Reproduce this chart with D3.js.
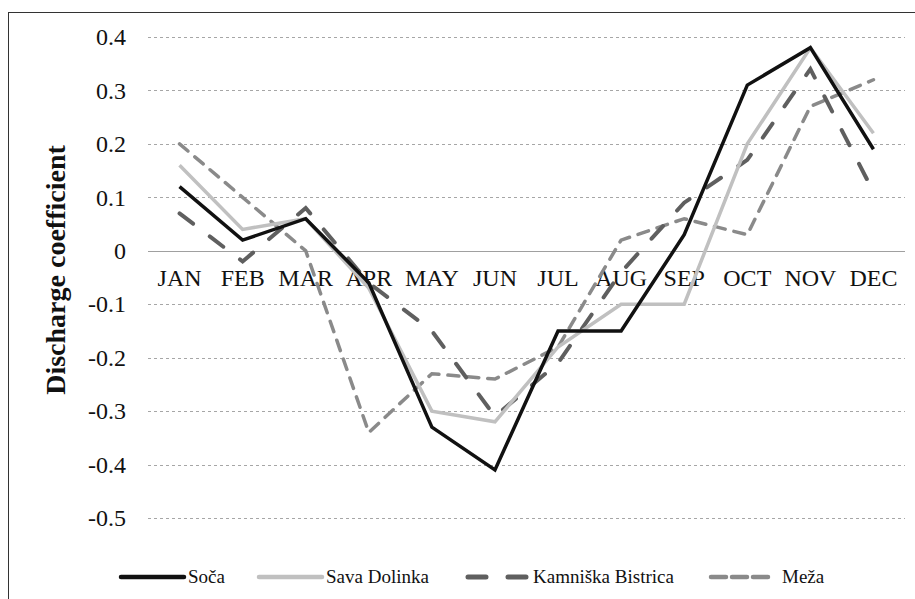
<!DOCTYPE html>
<html>
<head>
<meta charset="utf-8">
<script src="https://cdn.jsdelivr.net/npm/d3@7"></script>
<style>
  body { margin: 0; background: #fff; }
  svg { display: block; }
  svg text { font-family: "Liberation Serif", "Times New Roman", serif; }
</style>
</head>
<body>
<svg width="915" height="599"></svg>
<script>
var months = ["JAN", "FEB", "MAR", "APR", "MAY", "JUN", "JUL", "AUG", "SEP", "OCT", "NOV", "DEC"];
var yTicks = [0.4, 0.3, 0.2, 0.1, 0, -0.1, -0.2, -0.3, -0.4, -0.5];
var seriesNames = ["Soča", "Sava Dolinka", "Kamniška Bistrica", "Meža"];
var soca = [0.12, 0.02, 0.06, -0.06, -0.33, -0.41, -0.15, -0.15, 0.03, 0.31, 0.38, 0.19];
var savaDolinka = [0.16, 0.04, 0.06, -0.07, -0.30, -0.32, -0.18, -0.10, -0.10, 0.20, 0.38, 0.22];
var kamniskaBistrica = [0.07, -0.02, 0.08, -0.06, -0.15, -0.31, -0.21, -0.04, 0.09, 0.17, 0.34, 0.11];
var meza = [0.20, 0.10, 0.00, -0.34, -0.23, -0.24, -0.18, 0.02, 0.06, 0.03, 0.27, 0.32];

var styles = [
  {color: "#111111", width: 3.5, dash: null},
  {color: "#c0c0c0", width: 3.5, dash: null},
  {color: "#5f5f5f", width: 4, dash: "17,21"},
  {color: "#8a8a8a", width: 3.5, dash: "11,9"}
];

var series = [soca, savaDolinka, kamniskaBistrica, meza].map(function(v, i) {
  return {name: seriesNames[i], values: v, style: styles[i]};
});

var svg = d3.select("svg");

// outer frame (right and bottom edge fall outside the picture)
svg.append("rect")
    .attr("x", 8.5).attr("y", 12.5)
    .attr("width", 1000).attr("height", 700)
    .attr("fill", "none")
    .attr("stroke", "#333")
    .attr("stroke-width", 1);

var x = d3.scaleBand().domain(months).range([148, 905]),
    y = d3.scaleLinear().domain([-0.5, 0.4]).range([518, 37]);

var g = svg.append("g");

// gridlines
g.selectAll(".grid")
  .data(yTicks.filter(function(d) { return d !== 0; }))
  .enter().append("line")
    .attr("class", "grid")
    .attr("x1", 148).attr("x2", 905)
    .attr("y1", function(d) { return Math.round(y(d)) + 0.5; })
    .attr("y2", function(d) { return Math.round(y(d)) + 0.5; })
    .attr("stroke", "#a6a6a6")
    .attr("stroke-dasharray", "3,3");

g.append("line")
    .attr("x1", 148).attr("x2", 905)
    .attr("y1", Math.round(y(0)) + 0.5).attr("y2", Math.round(y(0)) + 0.5)
    .attr("stroke", "#a0a0a0");

// y axis labels, plain hyphen for minus like the original
var yAxis = g.append("g")
    .attr("transform", "translate(126,0)")
    .call(d3.axisLeft(y).tickValues(yTicks).tickSize(0).tickPadding(0)
      .tickFormat(function(d) { return d === 0 ? "0" : d.toFixed(1); }));
yAxis.select(".domain").remove();
yAxis.attr("font-family", null).attr("font-size", null);
yAxis.selectAll("text")
    .style("font-size", "24px")
    .attr("fill", "#111");

// month labels sit just under the zero line
var xAxis = g.append("g")
    .attr("transform", "translate(0," + y(0) + ")")
    .call(d3.axisBottom(x).tickSize(0).tickPadding(18));
xAxis.select(".domain").remove();
xAxis.attr("font-family", null).attr("font-size", null);
xAxis.selectAll("text")
    .style("font-size", "24px")
    .attr("fill", "#111");

svg.append("text")
    .attr("transform", "translate(65,270) rotate(-90)")
    .attr("text-anchor", "middle")
    .style("font-size", "28px")
    .style("font-weight", "bold")
    .attr("fill", "#111")
    .text("Discharge coefficient");

var line = d3.line()
    .x(function(d, i) { return x(months[i]) + x.bandwidth() / 2; })
    .y(function(d) { return y(d); });

// draw back to front so Soča ends on top
series.slice().reverse().forEach(function(s) {
  g.append("path")
      .datum(s.values)
      .attr("d", line)
      .attr("fill", "none")
      .attr("stroke", s.style.color)
      .attr("stroke-width", s.style.width)
      .attr("stroke-dasharray", s.style.dash)
      .attr("stroke-linecap", s.style.dash ? "round" : "butt")
      .attr("stroke-linejoin", "miter");
});

// legend
var legendX = [121, 259, 466, 709];
var legend = svg.selectAll(".legend")
  .data(series)
  .enter().append("g")
    .attr("class", "legend")
    .attr("transform", function(d, i) { return "translate(" + legendX[i] + ",577)"; });

legend.append("line")
    .attr("x1", function(d) { return d.style.dash ? 2 : 0; })
    .attr("x2", 63)
    .attr("stroke", function(d) { return d.style.color; })
    .attr("stroke-width", function(d) { return d.style.width + 1; })
    .attr("stroke-linecap", "round")
    .attr("stroke-dasharray", function(d, i) { return i === 2 ? "18,22" : (i === 3 ? "15,6" : null); });

legend.append("text")
    .attr("x", function(d, i) { return i === 3 ? 73 : 67; })
    .attr("y", 6)
    .style("font-size", "19px")
    .attr("fill", "#111")
    .text(function(d) { return d.name; });
</script>
</body>
</html>
